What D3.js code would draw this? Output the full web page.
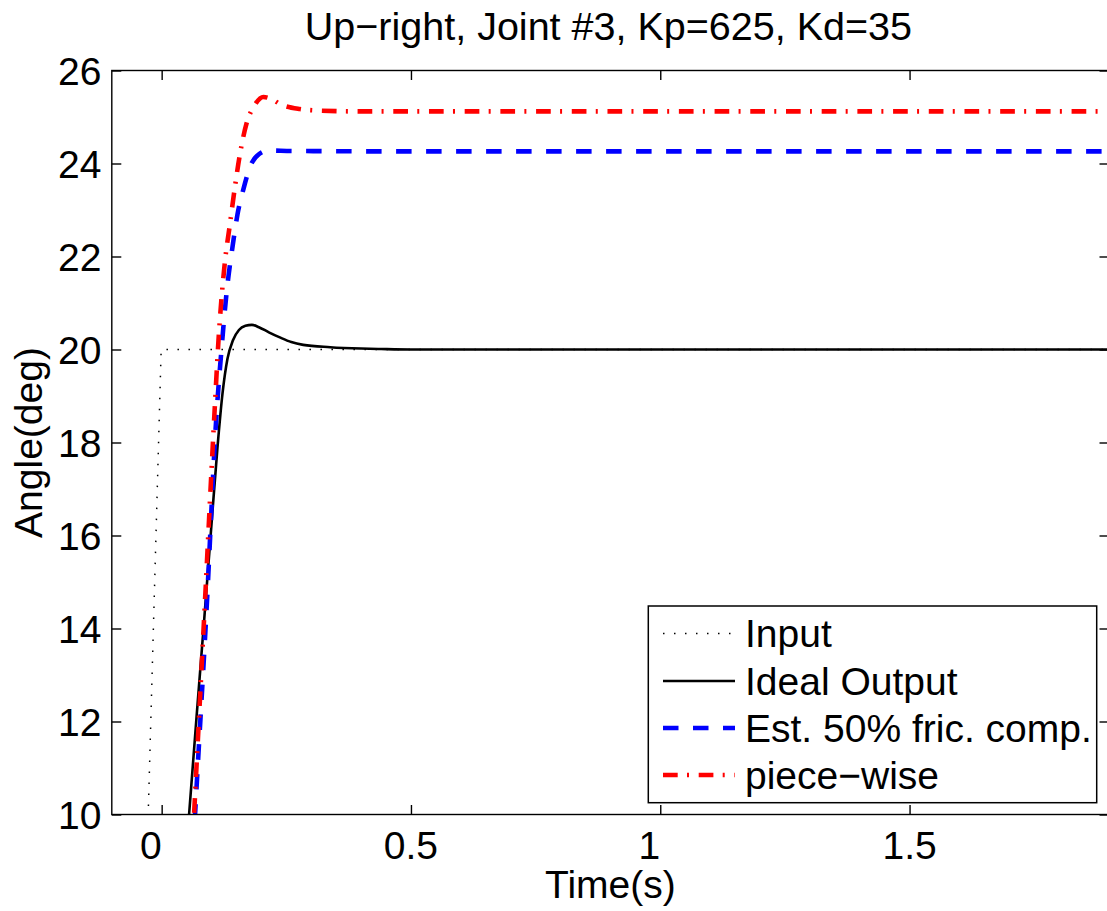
<!DOCTYPE html>
<html>
<head>
<meta charset="utf-8">
<script src="https://cdn.jsdelivr.net/npm/d3@7"></script>
<style>
  html, body { margin: 0; padding: 0; background: #fff; }
  svg { display: block; }
  text { font-family: "Liberation Sans", Arial, Helvetica, sans-serif; fill: #000; }
</style>
</head>
<body>
<svg id="chart" width="1107" height="911"></svg>
<script>
// ---- data ----
const titleText = "Up\u2212right, Joint #3, Kp=625, Kd=35";
const xLabel = "Time(s)";
const yLabel = "Angle(deg)";
const xDomain = [-0.1, 1.9];
const yDomain = [10, 26];
const xTicks = [0, 0.5, 1, 1.5];
const xTickLabels = ["0", "0.5", "1", "1.5"];
const yTicks = [10, 12, 14, 16, 18, 20, 22, 24, 26];
const yTickLabels = ["10", "12", "14", "16", "18", "20", "22", "24", "26"];
const seriesNames = ["Input", "Ideal Output", "Est. 50% fric. comp.", "piece\u2212wise"];

// [time, angle]
const inputData = [[-0.0296, 9.0], [-0.001, 20.0], [0.5, 20.0], [1.0, 20.0], [1.9, 20.0]];
const idealData = [
  [0.045, 8.6], [0.055, 10.0], [0.070, 12.1], [0.085, 14.15], [0.100, 16.25], [0.112, 17.9],
  [0.122, 19.05], [0.132, 19.8], [0.143, 20.2], [0.155, 20.42], [0.168, 20.51], [0.181, 20.53],
  [0.195, 20.48], [0.215, 20.37], [0.237, 20.26], [0.260, 20.16], [0.284, 20.10], [0.338, 20.05],
  [0.40, 20.02], [0.44, 20.01], [0.5, 20.0], [1.0, 20.0], [1.5, 20.0], [1.9, 20.0]
];
const estData = [
  [0.060, 8.6], [0.067, 10.0], [0.090, 14.4], [0.110, 18.6], [0.120, 20.0], [0.130, 21.2],
  [0.142, 22.2], [0.152, 22.9], [0.164, 23.45], [0.178, 23.95], [0.195, 24.2], [0.214, 24.28],
  [0.26, 24.27], [0.5, 24.26], [1.0, 24.26], [1.5, 24.26], [1.9, 24.26]
];
const pieceData = [
  [0.058, 8.5], [0.065, 10.0], [0.086, 14.4], [0.107, 18.85], [0.114, 20.2], [0.127, 21.9],
  [0.137, 22.7], [0.147, 23.5], [0.157, 24.2], [0.170, 24.85], [0.187, 25.26], [0.204, 25.43],
  [0.217, 25.40], [0.241, 25.26], [0.277, 25.17], [0.311, 25.14], [0.4, 25.12], [1.0, 25.12],
  [1.5, 25.12], [1.9, 25.12]
];

(function () {
const svg = d3.select("#chart");
const W = 1107, H = 911;
const pL = 111.8, pR = 1109, pT = 70.5, pB = 814.5;
const FS = 39;

svg.append("rect").attr("width", W).attr("height", H).attr("fill", "#fff");

const x = d3.scaleLinear().domain(xDomain).range([pL, pR]);
const y = d3.scaleLinear().domain(yDomain).range([pB, pT]);

svg.append("defs").append("clipPath").attr("id", "plotclip")
  .append("rect").attr("x", pL).attr("y", pT).attr("width", pR - pL).attr("height", pB - pT);

const styles = [
  { data: inputData, color: "#000", width: 1.5, dash: "1.5,9.5", curve: d3.curveLinear },
  { data: idealData, color: "#000", width: 2.6, dash: null, curve: d3.curveMonotoneX },
  { data: estData, color: "#0000ff", width: 4.6, dash: "15.5,14.5", curve: d3.curveMonotoneX },
  { data: pieceData, color: "#ff0000", width: 4.6, dash: "14.7,9.3,2,9.7", curve: d3.curveMonotoneX }
];

const gLines = svg.append("g").attr("clip-path", "url(#plotclip)");
styles.forEach(s => {
  const line = d3.line().x(d => x(d[0])).y(d => y(d[1])).curve(s.curve);
  gLines.append("path")
    .attr("d", line(s.data))
    .attr("fill", "none")
    .attr("stroke", s.color)
    .attr("stroke-width", s.width)
    .attr("stroke-dasharray", s.dash)
    .attr("stroke-linejoin", "round");
});

const tickLen = 9.5;
const axisColor = "#000";
const axW = 1.4;
const gAx = svg.append("g");

const xAxisB = d3.axisBottom(x).tickValues(xTicks).tickSize(-tickLen).tickFormat("");
const xAxisT = d3.axisTop(x).tickValues(xTicks).tickSize(-tickLen).tickFormat("");
const yAxisL = d3.axisLeft(y).tickValues(yTicks).tickSize(-tickLen).tickFormat("");
const yAxisR = d3.axisRight(y).tickValues(yTicks).tickSize(-tickLen).tickFormat("");

[[xAxisB, `translate(0,${pB})`], [xAxisT, `translate(0,${pT})`],
 [yAxisL, `translate(${pL},0)`], [yAxisR, `translate(${pR},0)`]].forEach(([ax, tr]) => {
  const g = gAx.append("g").attr("transform", tr).call(ax);
  g.select(".domain").remove();
  g.selectAll(".tick line").attr("stroke", axisColor).attr("stroke-width", axW);
});

gAx.append("rect")
  .attr("x", pL).attr("y", pT).attr("width", pR - pL).attr("height", pB - pT)
  .attr("fill", "none").attr("stroke", axisColor).attr("stroke-width", axW);

// x tick labels (MATLAB pads labels to equal length with trailing spaces)
const maxLen = d3.max(xTickLabels, s => s.length);
const spaceW = 0.278 * FS;
svg.append("g").selectAll("text").data(xTicks).join("text")
  .attr("x", (d, i) => x(d) - (maxLen - xTickLabels[i].length) * spaceW / 2)
  .attr("y", 859)
  .attr("text-anchor", "middle")
  .attr("font-size", FS)
  .text((d, i) => xTickLabels[i]);

svg.append("g").selectAll("text").data(yTicks).join("text")
  .attr("x", pL - 10.3)
  .attr("y", d => y(d) + 14.2)
  .attr("text-anchor", "end")
  .attr("font-size", FS)
  .text((d, i) => yTickLabels[i]);

svg.append("text").attr("x", (pL + pR) / 2 - 2).attr("y", 39.5)
  .attr("text-anchor", "middle").attr("font-size", 39.5).text(titleText);
svg.append("text").attr("x", (pL + pR) / 2).attr("y", 898)
  .attr("text-anchor", "middle").attr("font-size", FS).text(xLabel);
svg.append("text").attr("transform", `translate(41.5,${(pT + pB) / 2}) rotate(-90)`)
  .attr("text-anchor", "middle").attr("font-size", FS).text(yLabel);

const lg = svg.append("g");
const lgX0 = 648.3, lgY0 = 606, lgX1 = 1096.7, lgY1 = 802.7;
lg.append("rect").attr("x", lgX0).attr("y", lgY0).attr("width", lgX1 - lgX0).attr("height", lgY1 - lgY0)
  .attr("fill", "#fff").attr("stroke", "#000").attr("stroke-width", 1.5);
const rowY = [633.5, 681, 728, 775];
styles.forEach((s, i) => {
  lg.append("line")
    .attr("x1", 663).attr("x2", 735).attr("y1", rowY[i]).attr("y2", rowY[i])
    .attr("stroke", s.color).attr("stroke-width", s.width)
    .attr("stroke-dasharray", s.dash);
  lg.append("text").attr("x", 745).attr("y", rowY[i] + 13.6)
    .attr("font-size", FS).text(seriesNames[i]);
});
})();
</script>
</body>
</html>
